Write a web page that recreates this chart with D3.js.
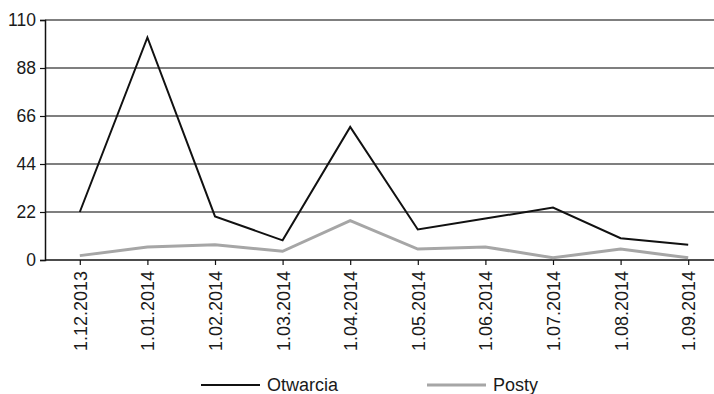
<!DOCTYPE html>
<html>
<head>
<meta charset="utf-8">
<script src="https://cdn.jsdelivr.net/npm/d3@7"></script>
<style>
  html, body { margin: 0; padding: 0; background: #fff; }
  svg { display: block; }
  text { font-family: "Liberation Sans", Arial, sans-serif; fill: #1a1a1a; }
</style>
</head>
<body>
<svg id="chart" width="714" height="394"></svg>
<script>
// Monthly dates on the x axis
const categories = ["1.12.2013", "1.01.2014", "1.02.2014", "1.03.2014", "1.04.2014",
                    "1.05.2014", "1.06.2014", "1.07.2014", "1.08.2014", "1.09.2014"];
// Series values
const otwarcia = [22, 102, 20, 9, 61, 14, 19, 24, 10, 7];
const posty    = [2, 6, 7, 4, 18, 5, 6, 1, 5, 1];
// Y axis ticks
const yTicks = [0, 22, 44, 66, 88, 110];
const seriesNames = ["Otwarcia", "Posty"];

const W = 714, H = 394;
const plotLeft = 45, plotTop = 20, plotBottom = 260;

const svg = d3.select("#chart");

const x = d3.scalePoint().domain(categories).range([46, 722]).padding(0.5);
const y = d3.scaleLinear().domain([0, 110]).range([plotBottom, plotTop]);

// Horizontal gridlines
svg.append("g")
  .selectAll("line")
  .data(yTicks.filter(d => d > 0))
  .join("line")
  .attr("x1", plotLeft).attr("x2", W)
  .attr("y1", d => y(d)).attr("y2", d => y(d))
  .attr("stroke", "#555").attr("stroke-width", 1.3);

// Y axis
const yAxis = svg.append("g")
  .attr("transform", `translate(${plotLeft},0)`)
  .call(d3.axisLeft(y).tickValues(yTicks).tickSize(5).tickPadding(4));
yAxis.select(".domain").attr("stroke", "#111").attr("stroke-width", 1.5);
yAxis.selectAll(".tick line").attr("stroke", "#111").attr("stroke-width", 1.2);
yAxis.selectAll(".tick text").style("font-size", "17.5px").attr("fill", "#1a1a1a");

// X axis
const xAxis = svg.append("g")
  .attr("transform", `translate(0,${plotBottom})`)
  .call(d3.axisBottom(x).tickSize(5).tickSizeOuter(0));
xAxis.select(".domain").attr("d", `M${plotLeft},0H${W}`).attr("stroke", "#111").attr("stroke-width", 1.5);
xAxis.selectAll(".tick line").attr("stroke", "#111").attr("stroke-width", 1.2);
xAxis.selectAll(".tick text")
  .style("font-size", "18px")
  .attr("fill", "#1a1a1a")
  .attr("text-anchor", "end")
  .attr("transform", "rotate(-90)")
  .attr("x", -11)
  .attr("y", 0)
  .attr("dy", "0.36em");

// Lines
const line = d3.line().x((d, i) => x(categories[i])).y(d => y(d));

svg.append("path")
  .datum(posty)
  .attr("d", line)
  .attr("fill", "none")
  .attr("stroke", "#a6a6a6")
  .attr("stroke-width", 3)
  .attr("stroke-linejoin", "miter");

svg.append("path")
  .datum(otwarcia)
  .attr("d", line)
  .attr("fill", "none")
  .attr("stroke", "#111")
  .attr("stroke-width", 2)
  .attr("stroke-linejoin", "miter");

// Legend
const legend = [
  { name: seriesNames[0], color: "#111", width: 2, x: 201 },
  { name: seriesNames[1], color: "#a6a6a6", width: 3, x: 427 }
];
const lg = svg.append("g").selectAll("g").data(legend).join("g")
  .attr("transform", d => `translate(${d.x},385)`);
lg.append("line")
  .attr("x1", 0).attr("x2", 59).attr("y1", 0).attr("y2", 0)
  .attr("stroke", d => d.color).attr("stroke-width", d => d.width);
lg.append("text")
  .attr("x", 66).attr("dy", "0.33em")
  .style("font-size", "18px")
  .text(d => d.name);
</script>
</body>
</html>
